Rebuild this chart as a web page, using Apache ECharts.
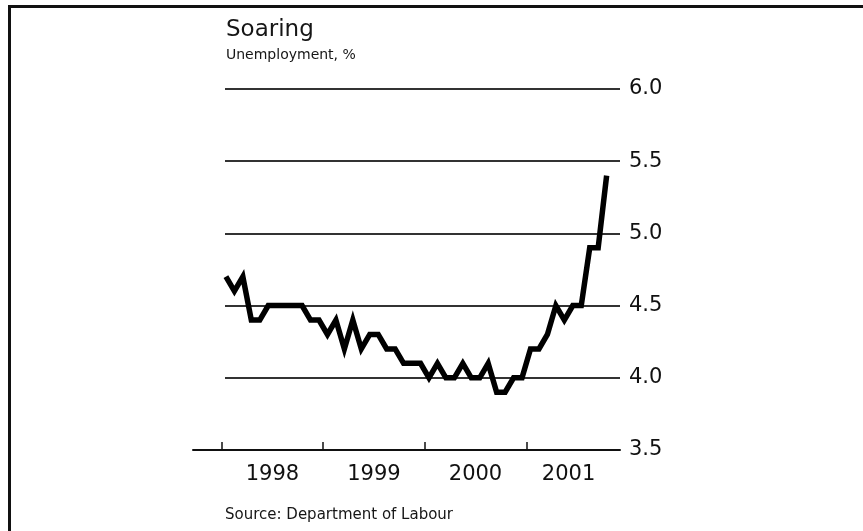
<!DOCTYPE html>
<html>
<head>
<meta charset="utf-8">
<script src="https://cdn.jsdelivr.net/npm/echarts@6/dist/echarts.min.js"></script>
<style>
  html, body { margin: 0; padding: 0; background: #fff; }
  #wrap { position: relative; width: 863px; height: 531px; overflow: hidden; }
  #chart { position: absolute; left: 0; top: 0; width: 863px; height: 531px; }
  #frame { position: absolute; left: 8px; top: 5px; width: 900px; height: 600px;
           border-top: 3px solid #111; border-left: 3px solid #111; pointer-events: none; }
</style>
</head>
<body>
<div id="wrap">
  <div id="chart"></div>
  <div id="frame"></div>
</div>
<script>
// Monthly unemployment rate, Jan 1998 – Oct 2001
const startYear = 1998;
const rate1998 = [4.7, 4.6, 4.7, 4.4, 4.4, 4.5, 4.5, 4.5, 4.5, 4.5, 4.4, 4.4];
const rate1999 = [4.3, 4.4, 4.2, 4.4, 4.2, 4.3, 4.3, 4.2, 4.2, 4.1, 4.1, 4.1];
const rate2000 = [4.0, 4.1, 4.0, 4.0, 4.1, 4.0, 4.0, 4.1, 3.9, 3.9, 4.0, 4.0];
const rate2001 = [4.2, 4.2, 4.3, 4.5, 4.4, 4.5, 4.5, 4.9, 4.9, 5.4];
const yearLabels = ['1998', '1999', '2000', '2001'];
const yTicks = [3.5, 4.0, 4.5, 5.0, 5.5, 6.0];

const rates = [].concat(rate1998, rate1999, rate2000, rate2001);
// each month is plotted at its middle; x is measured in months from Jan 1998
const points = rates.map((v, i) => [i + 0.5, v]);

const font = '"DejaVu Sans", "Liberation Sans", Arial, sans-serif';
const xEnd = 47.08;

const chart = echarts.init(document.getElementById('chart'), null, { renderer: 'canvas' });
chart.setOption({
  animation: false,
  backgroundColor: '#fff',
  title: [
    { text: 'Soaring', left: 221, top: 14,
      textStyle: { fontFamily: font, fontSize: 23, fontWeight: 'normal', color: '#161616' } },
    { text: 'Unemployment, %', left: 221, top: 43,
      textStyle: { fontFamily: font, fontSize: 14, fontWeight: 'normal', color: '#161616' } },
    { text: 'Source: Department of Labour', left: 220, top: 503,
      textStyle: { fontFamily: font, fontSize: 15, fontWeight: 'normal', color: '#161616' } }
  ],
  grid: [
    { left: 225, right: 243, top: 89, bottom: 81 },
    { left: 193, right: 243, top: 89, bottom: 81 }
  ],
  xAxis: [
    { gridIndex: 0, type: 'value', min: 0.39, max: xEnd, show: false },
    { gridIndex: 1, type: 'value', min: -3.39, max: xEnd,
      axisLine: { show: true, lineStyle: { color: '#111', width: 2 } },
      axisTick: { show: true, inside: true, length: 8, customValues: [0, 12, 24, 36],
                  lineStyle: { color: '#111', width: 1.5 } },
      axisLabel: { show: true, customValues: [6, 18, 30, 41], margin: 14,
                   fontFamily: font, fontSize: 21, color: '#111',
                   formatter: v => yearLabels[Math.floor(v / 12)] },
      splitLine: { show: false } }
  ],
  yAxis: [
    { gridIndex: 0, type: 'value', position: 'right', min: 3.5, max: 6.0, interval: 0.5,
      axisLine: { show: false }, axisTick: { show: false },
      axisLabel: { margin: 9, fontFamily: font, fontSize: 21, color: '#111',
                   customValues: yTicks, formatter: v => v.toFixed(1) },
      splitLine: { show: true, lineStyle: { color: '#333', width: 2 } } },
    { gridIndex: 1, type: 'value', min: 3.5, max: 6.0, show: false }
  ],
  series: [
    { type: 'line', xAxisIndex: 0, yAxisIndex: 0, data: points,
      showSymbol: false, symbol: 'none', z: 5,
      lineStyle: { color: '#000', width: 5.5, join: 'miter', cap: 'butt' } }
  ]
});
</script>
</body>
</html>
